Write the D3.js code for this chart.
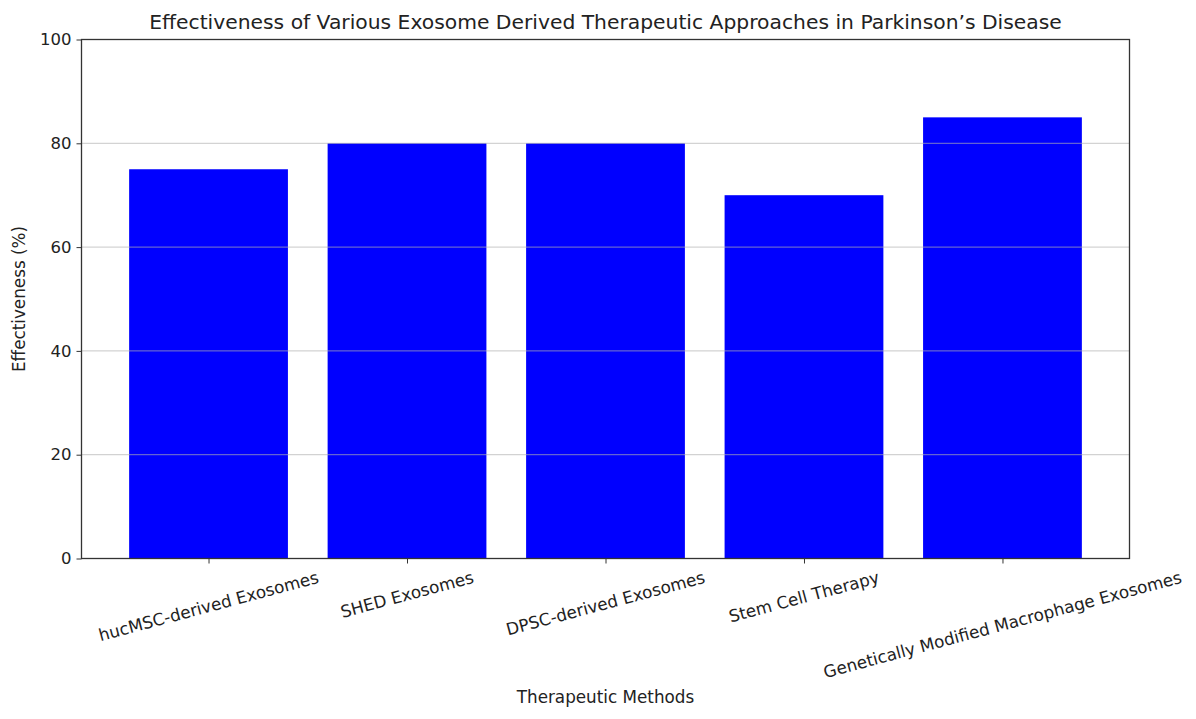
<!DOCTYPE html>
<html>
<head>
<meta charset="utf-8">
<script src="https://cdn.jsdelivr.net/npm/d3@7"></script>
<style>
  body { margin: 0; background: #fff; }
  text { font-family: "DejaVu Sans", sans-serif; fill: #222; }
</style>
</head>
<body>
<div id="chart"></div>
<script>
  // data
  var methods = ["hucMSC-derived Exosomes", "SHED Exosomes", "DPSC-derived Exosomes",
                 "Stem Cell Therapy", "Genetically Modified Macrophage Exosomes"];
  var effectiveness = [75, 80, 80, 70, 85];
  var yTicks = [0, 20, 40, 60, 80, 100];

  var W = 1196, H = 719;
  var margin = {top: 39.5, right: 66.5, bottom: 160.5, left: 81.5},
      width = W - margin.left - margin.right,
      height = H - margin.top - margin.bottom;

  var svg = d3.select("#chart").append("svg")
      .attr("width", W).attr("height", H);
  var g = svg.append("g")
      .attr("transform", "translate(" + margin.left + "," + margin.top + ")");

  // x like matplotlib: index positions with a margin on each side
  var x = d3.scaleLinear().domain([-0.64, methods.length - 1 + 0.64]).range([0, width]);
  var y = d3.scaleLinear().domain([0, 100]).range([height, 0]);
  var step = x(1) - x(0), bw = step * 0.8;

  // bars
  g.selectAll("rect.bar").data(effectiveness).enter().append("rect")
      .attr("class", "bar")
      .attr("x", function(d, i) { return x(i) - bw / 2; })
      .attr("y", function(d) { return y(d); })
      .attr("width", bw)
      .attr("height", function(d) { return height - y(d); })
      .attr("fill", "#0000ff");

  // horizontal grid, drawn over the bars
  g.selectAll("line.grid").data(yTicks).enter().append("line")
      .attr("class", "grid")
      .attr("x1", 0).attr("x2", width)
      .attr("y1", function(d) { return y(d); })
      .attr("y2", function(d) { return y(d); })
      .attr("stroke", "#b0b0b0").attr("stroke-opacity", 0.7).attr("stroke-width", 1);

  // y axis
  var yAxis = g.append("g").call(d3.axisLeft(y).tickValues(yTicks).tickSize(5).tickPadding(5));
  yAxis.select(".domain").remove();
  yAxis.selectAll("text").style("font-size", "16.5px").attr("fill", "#222");
  yAxis.selectAll("line").attr("stroke", "#333");

  // x axis ticks
  var xAxis = g.append("g").attr("transform", "translate(0," + height + ")")
      .call(d3.axisBottom(x).tickValues(d3.range(methods.length)).tickSize(5).tickFormat(""));
  xAxis.select(".domain").remove();
  xAxis.selectAll("line").attr("stroke", "#333");

  // rotated category labels, bbox centred under the tick
  var ang = 15 * Math.PI / 180;
  g.selectAll("text.cat").data(methods).enter().append("text")
      .attr("class", "cat")
      .style("font-size", "16.8px")
      .attr("text-anchor", "middle")
      .attr("dominant-baseline", "central")
      .text(function(d) { return d; })
      .each(function(d, i) {
        var w = this.getComputedTextLength(), h = 19;
        var cy = height + 9 + (w * Math.sin(ang) + h * Math.cos(ang)) / 2;
        d3.select(this).attr("transform", "translate(" + x(i) + "," + cy + ") rotate(-15)");
      });

  // frame
  g.append("rect").attr("x", 0).attr("y", 0).attr("width", width).attr("height", height)
      .attr("fill", "none").attr("stroke", "#333").attr("stroke-width", 1.3);

  // titles
  svg.append("text").attr("x", margin.left + width / 2).attr("y", 29)
      .attr("text-anchor", "middle").style("font-size", "20.3px")
      .text("Effectiveness of Various Exosome Derived Therapeutic Approaches in Parkinson\u2019s Disease");
  svg.append("text").attr("x", margin.left + width / 2).attr("y", 703)
      .attr("text-anchor", "middle").style("font-size", "16.8px")
      .text("Therapeutic Methods");
  svg.append("text").attr("transform", "translate(25," + (margin.top + height / 2) + ") rotate(-90)")
      .attr("text-anchor", "middle").style("font-size", "16.8px")
      .text("Effectiveness (%)");
</script>
</body>
</html>
